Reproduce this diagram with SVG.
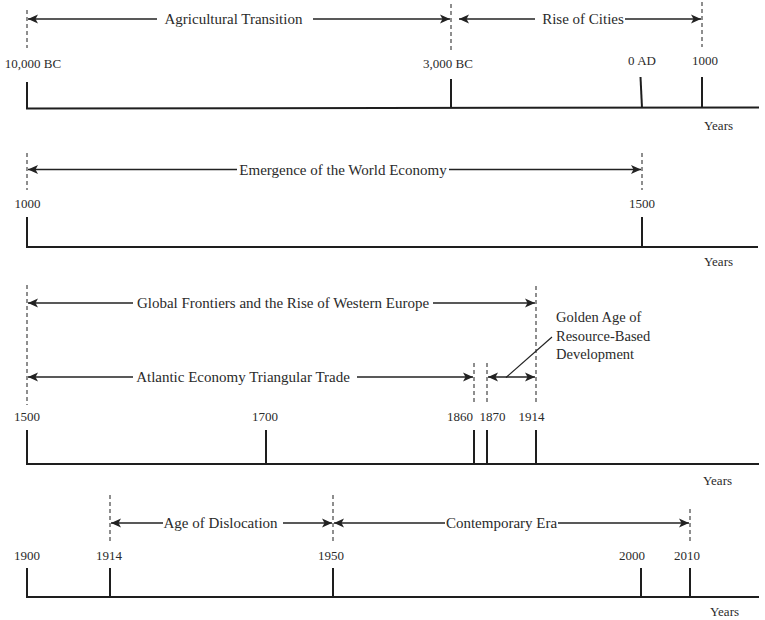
<svg xmlns="http://www.w3.org/2000/svg" width="765" height="620" viewBox="0 0 765 620" font-family="'Liberation Serif', 'Times New Roman', 'DejaVu Serif', serif">
<style>
text{font-family:'Liberation Serif','Times New Roman','DejaVu Serif',serif;fill:#2a2a2a}
.lab{font-size:13px;text-anchor:middle}
.yr{font-size:13px}
.era{font-size:15px;text-anchor:middle}
.gold{font-size:14.5px}
.axis{stroke:#1e1e1e;stroke-width:2;fill:none}
.tick{stroke:#1e1e1e;stroke-width:2;fill:none}
.dash{stroke:#444;stroke-width:1.2;stroke-dasharray:4 3;fill:none}
.arr{stroke:#222;stroke-width:1.5;fill:none;marker-end:url(#ah)}
.arr2{stroke:#222;stroke-width:1.5;fill:none;marker-end:url(#ah);marker-start:url(#ah)}
.lead{stroke:#222;stroke-width:1.2;fill:none}
</style>
<defs>
<marker id="ah" viewBox="-1 -5 12 10" refX="10" refY="0" markerWidth="12" markerHeight="10" markerUnits="userSpaceOnUse" orient="auto-start-reverse">
<path d="M0,-4.5 L10,0 L0,4.5 L2.5,0 z" fill="#222"/>
</marker>
</defs>

<g id="timeline1">
<g id="t1-axis">
<line class="axis" x1="26" y1="108.5" x2="759" y2="107.5"/>
<line class="tick" x1="27" y1="82" x2="27" y2="109"/>
<line class="tick" x1="451" y1="79" x2="451" y2="108"/>
<line class="tick" x1="640.5" y1="77" x2="642" y2="108"/>
<line class="tick" x1="702" y1="77" x2="702" y2="108"/>
<text class="yr" x="704" y="130">Years</text>
</g>
<g id="t1-labels">
<text class="lab" x="33" y="68">10,000 BC</text>
<text class="lab" x="448" y="68">3,000 BC</text>
<text class="lab" x="642" y="65">0 AD</text>
<text class="lab" x="705" y="65">1000</text>
</g>
<g id="t1-agricultural">
<text class="era" x="233.5" y="24">Agricultural Transition</text>
</g>
<g id="t1-rise">
<text class="era" x="583" y="24">Rise of Cities</text>
</g>
</g>

<g id="timeline2">
<g id="t2-axis">
<line class="axis" x1="26" y1="247" x2="758" y2="247"/>
<line class="tick" x1="27" y1="217" x2="27" y2="248"/>
<line class="tick" x1="642" y1="217" x2="642" y2="248"/>
<text class="yr" x="704" y="266">Years</text>
</g>
<g id="t2-labels">
<text class="lab" x="27.5" y="208">1000</text>
<text class="lab" x="642" y="208">1500</text>
</g>
<g id="t2-emergence">
<text class="era" x="343" y="174.5">Emergence of the World Economy</text>
</g>
</g>

<g id="timeline3">
<g id="t3-axis">
<line class="axis" x1="26" y1="464" x2="759" y2="464"/>
<line class="tick" x1="27" y1="430" x2="27" y2="465"/>
<line class="tick" x1="266" y1="430" x2="266" y2="465"/>
<line class="tick" x1="474" y1="430" x2="474" y2="465"/>
<line class="tick" x1="487" y1="430" x2="487" y2="465"/>
<line class="tick" x1="536" y1="430" x2="536" y2="465"/>
<text class="yr" x="703" y="485">Years</text>
</g>
<g id="t3-labels">
<text class="lab" x="27" y="421">1500</text>
<text class="lab" x="265" y="421">1700</text>
<text class="lab" x="460" y="421">1860</text>
<text class="lab" x="492.5" y="421">1870</text>
<text class="lab" x="531.5" y="421">1914</text>
</g>
<g id="t3-global">
<text class="era" x="283" y="308">Global Frontiers and the Rise of Western Europe</text>
</g>
<g id="t3-atlantic">
<text class="era" x="243" y="382">Atlantic Economy Triangular Trade</text>
</g>
<g id="t3-golden">
<text class="gold" x="556" y="322">Golden Age of</text>
<text class="gold" x="556" y="340.5">Resource-Based</text>
<text class="gold" x="556" y="358.5">Development</text>
</g>
</g>

<g id="timeline4">
<g id="t4-axis">
<line class="axis" x1="26" y1="597" x2="759" y2="597"/>
<line class="tick" x1="27" y1="568" x2="27" y2="598"/>
<line class="tick" x1="110" y1="568" x2="110" y2="598"/>
<line class="tick" x1="333" y1="568" x2="333" y2="598"/>
<line class="tick" x1="641" y1="568" x2="641" y2="598"/>
<line class="tick" x1="690" y1="568" x2="690" y2="598"/>
<text class="yr" x="710" y="616">Years</text>
</g>
<g id="t4-labels">
<text class="lab" x="27" y="560">1900</text>
<text class="lab" x="109" y="560">1914</text>
<text class="lab" x="331" y="560">1950</text>
<text class="lab" x="632" y="560">2000</text>
<text class="lab" x="687" y="560">2010</text>
</g>
<g id="t4-dislocation">
<text class="era" x="220.5" y="528">Age of Dislocation</text>
</g>
<g id="t4-contemporary">
<text class="era" x="501.5" y="528">Contemporary Era</text>
</g>
</g>

<g id="connectors">
<line class="dash" x1="27" y1="10" x2="27" y2="48"/>
<line class="dash" x1="451" y1="4" x2="451" y2="50"/>
<line class="dash" x1="702" y1="2" x2="702" y2="47"/>
<line class="arr" x1="157" y1="19" x2="28" y2="19"/>
<line class="arr" x1="313" y1="19" x2="450" y2="19"/>
<line class="arr" x1="535" y1="19" x2="459" y2="19"/>
<line class="arr" x1="625" y1="19" x2="701" y2="19"/>

<line class="dash" x1="27" y1="153" x2="27" y2="190"/>
<line class="dash" x1="642" y1="153" x2="642" y2="190"/>
<line class="arr" x1="237" y1="169.5" x2="28" y2="169.5"/>
<line class="arr" x1="449" y1="169.5" x2="641" y2="169.5"/>

<line class="dash" x1="27" y1="285" x2="27" y2="405"/>
<line class="dash" x1="474" y1="363" x2="474" y2="403"/>
<line class="dash" x1="487" y1="363" x2="487" y2="403"/>
<line class="dash" x1="536" y1="286" x2="536" y2="403"/>
<line class="arr" x1="133" y1="303" x2="28" y2="303"/>
<line class="arr" x1="433" y1="303" x2="535" y2="303"/>
<line class="arr" x1="133" y1="377" x2="28" y2="377"/>
<line class="arr" x1="357" y1="377" x2="473" y2="377"/>
<line class="arr2" x1="488" y1="377" x2="535" y2="377"/>
<line class="lead" x1="506" y1="377.5" x2="552" y2="337"/>

<line class="dash" x1="110" y1="495" x2="110" y2="541"/>
<line class="dash" x1="333" y1="495" x2="333" y2="541"/>
<line class="dash" x1="690" y1="509" x2="690" y2="541"/>
<line class="arr" x1="163" y1="523" x2="111" y2="523"/>
<line class="arr" x1="283" y1="523" x2="332" y2="523"/>
<line class="arr" x1="445" y1="523" x2="334" y2="523"/>
<line class="arr" x1="558" y1="523" x2="689" y2="523"/>
</g>
</svg>
